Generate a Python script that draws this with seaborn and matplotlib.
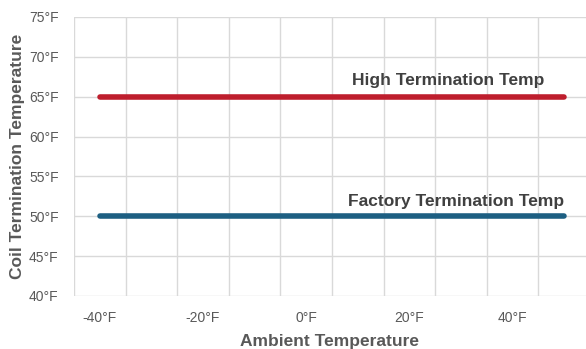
import numpy as np
import pandas as pd
import matplotlib
matplotlib.use("Agg")
import matplotlib.pyplot as plt
import seaborn as sns

# Données
ambient = [-40, 50]
high_term = [65, 65]
factory_term = [50, 50]
series_names = ["High Termination Temp", "Factory Termination Temp"]
series_colors = ["#BE1E2D", "#1D5F82"]
x_ticks = [-40, -20, 0, 20, 40]
y_ticks = [40, 45, 50, 55, 60, 65, 70, 75]

df = pd.DataFrame({
    "Ambient": ambient * 2,
    "Temp": high_term + factory_term,
    "Serie": [series_names[0]] * len(ambient) + [series_names[1]] * len(ambient),
})

sns.set_style("white")
plt.rcParams["font.family"] = ["Liberation Sans", "DejaVu Sans"]

fig = plt.figure(figsize=(5.86, 3.49), dpi=100)
ax = fig.add_axes([74 / 586, 53 / 349, 512 / 586, 279 / 349])

sns.lineplot(data=df, x="Ambient", y="Temp", hue="Serie",
             palette=dict(zip(series_names, series_colors)),
             linewidth=4, legend=False, ax=ax, solid_capstyle="round")
for line in ax.lines:
    line.set_solid_capstyle("round")

ax.set_xlim(-45, 54.25)
ax.set_ylim(40, 75)

# grille verticale décalée (comme Excel)
ax.set_xticks(x_ticks)
ax.set_xticks(np.arange(-45, 55, 10), minor=True)
ax.set_xticklabels([f"{v}°F" for v in x_ticks])
ax.set_yticks(y_ticks)
ax.set_yticklabels([f"{v}°F" for v in y_ticks])
ax.grid(False)
ax.grid(True, which="minor", axis="x", color="#d9d9d9", linewidth=1)
ax.grid(True, which="major", axis="y", color="#d9d9d9", linewidth=1)
ax.set_axisbelow(True)
for s in ax.spines.values():
    s.set_visible(False)

ax.tick_params(axis="both", which="both", length=0, labelsize=10, labelcolor="#595959")
ax.tick_params(axis="y", pad=11)
ax.tick_params(axis="x", pad=11)

ax.set_xlabel("Ambient Temperature", fontsize=12.5, fontweight="bold", color="#595959", labelpad=6)
ax.set_ylabel("Coil Termination Temperature", fontsize=12.5, fontweight="bold", color="#595959", labelpad=3)

ax.text(27.6, 67, series_names[0], ha="center", va="center",
        fontsize=12.5, fontweight="bold", color="#404040")
ax.text(29, 51.9, series_names[1], ha="center", va="center",
        fontsize=12.5, fontweight="bold", color="#404040")

fig.savefig("out.png", dpi=100)
